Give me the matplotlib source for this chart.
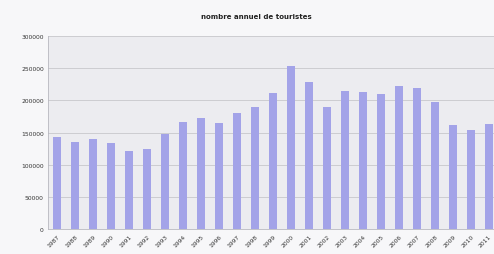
import matplotlib.pyplot as plt
import numpy as np

# Data
years = [str(y) for y in range(1987, 2012)]
tourists = [143000, 136000, 140000, 133000, 121000, 124000, 148000, 167000,
            172000, 164000, 181000, 190000, 212000, 253000, 228000, 190000,
            214000, 213000, 210000, 222000, 219000, 198000, 162000, 154000, 163000]
yticks = [0, 50000, 100000, 150000, 200000, 250000, 300000]

W, H = 494, 255
fig = plt.figure(figsize=(W / 100, H / 100), dpi=100)
fig.patch.set_facecolor("#f7f7f9")

# axes placed in pixel coordinates (the right side is cropped like the source)
left, right, top, bottom = 48, 494, 37, 230
ax = fig.add_axes([left / W, 1 - bottom / H, (right - left) / W, (bottom - top) / H])
ax.set_facecolor("#ececf0")

x = np.arange(len(years))
ax.bar(x, tourists, width=0.45, color="#a3a3e8", zorder=2)

ax.set_ylim(0, 300000)
ax.set_xlim(-0.5, len(years) - 1 + 5 / 18)
ax.set_yticks(yticks)
ax.set_yticklabels([str(v) for v in yticks], fontsize=4.3, color="#333333")
ax.set_xticks(x)
ax.set_xticklabels(years, rotation=45, ha="right", rotation_mode="anchor",
                   fontsize=4.3, color="#333333")
ax.tick_params(axis="both", length=0, pad=3)
ax.grid(axis="y", color="#c8c8cc", linewidth=0.6, zorder=1)

for side in ["top", "right"]:
    ax.spines[side].set_visible(False)
ax.spines["left"].set_color("#b8b8c0")
ax.spines["bottom"].set_color("#b8b8c0")
ax.spines["left"].set_linewidth(0.6)
ax.spines["bottom"].set_linewidth(0.6)

fig.text(256 / W, 1 - 17 / H, "nombre annuel de touristes", fontsize=5,
         fontweight="bold", ha="center", va="center", color="#222222")

fig.savefig("out.png", dpi=100, facecolor=fig.get_facecolor())
